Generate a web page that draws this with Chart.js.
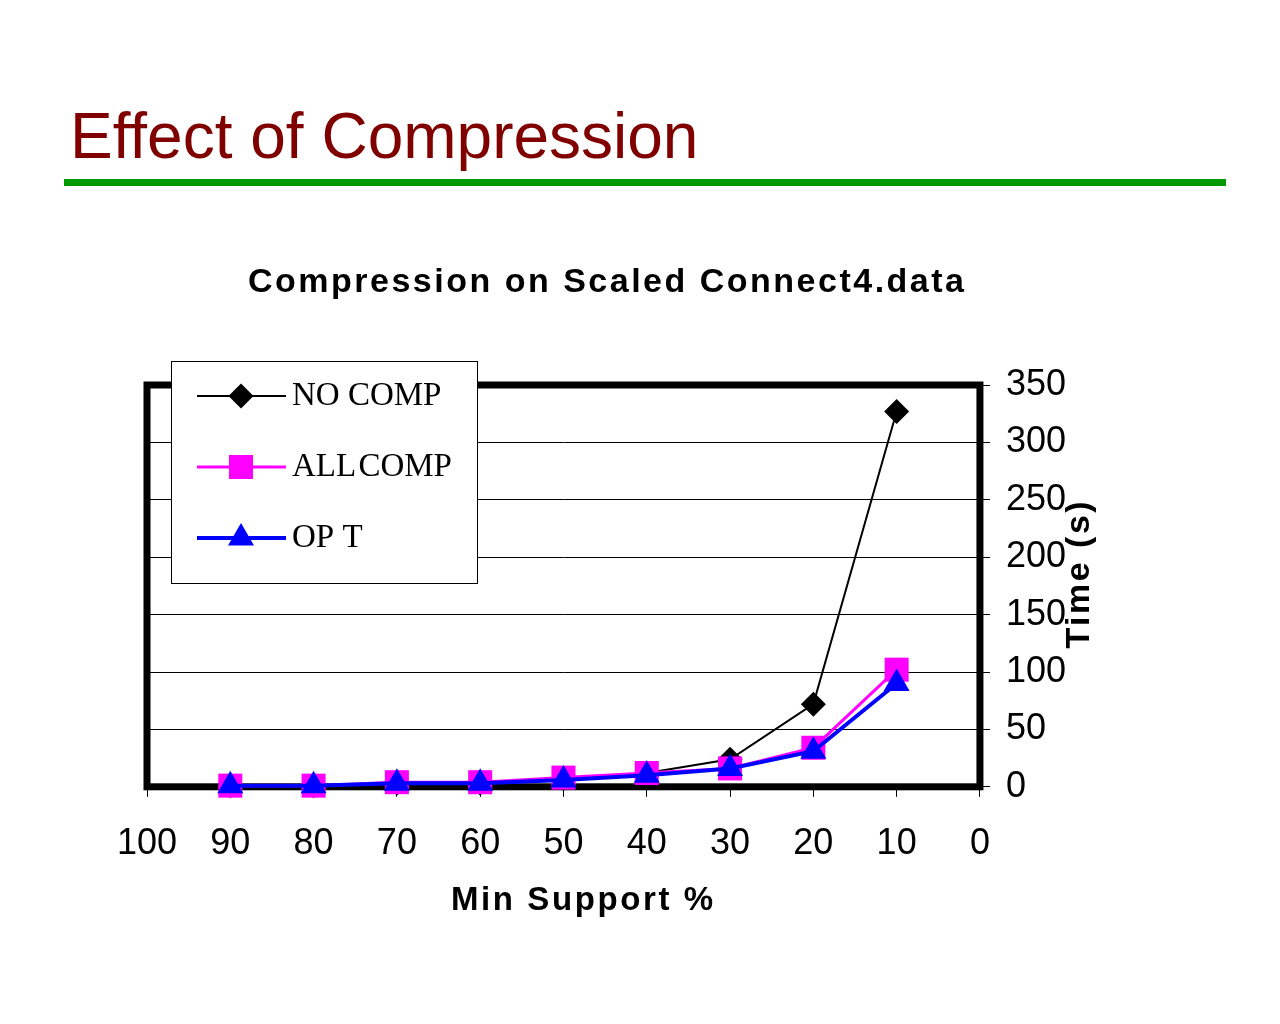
<!DOCTYPE html>
<html>
<head>
<meta charset="utf-8">
<script src="https://cdn.jsdelivr.net/npm/chart.js@4.4.1/dist/chart.umd.min.js"></script>
<style>
  body { margin: 0; background: #fff; }
</style>
</head>
<body>
<canvas id="c" width="1280" height="1024"></canvas>
<script>
const support = [90, 80, 70, 60, 50, 40, 30, 20, 10];
const noComp  = [1, 1, 3, 3, 7, 12, 24, 72, 327];
const allComp = [1, 1, 4, 4, 8, 12, 16, 34, 102];
const opt     = [1, 1, 3, 3, 6, 10, 16, 31, 90];
const xTicks = [100, 90, 80, 70, 60, 50, 40, 30, 20, 10, 0];
const yTicks = [0, 50, 100, 150, 200, 250, 300, 350];

const series = [
  { label: "NO COMP", values: noComp, color: "#000000", style: "rectRot", radius: 12.5, width: 2, order: 3 },
  { label: "ALL COMP", values: allComp, color: "#ff00ff", style: "rect", radius: 17, width: 3, order: 2 },
  { label: "OP T", values: opt, color: "#0000ff", style: "triangle", radius: 15, width: 4, order: 1 }
];

const sans = "'Liberation Sans', Arial, sans-serif";
const serif = "'Liberation Serif', 'Times New Roman', serif";

function marker(ctx, style, x, y, r) {
  ctx.beginPath();
  if (style === "rectRot") {
    ctx.moveTo(x, y - r); ctx.lineTo(x + r, y); ctx.lineTo(x, y + r); ctx.lineTo(x - r, y);
  } else if (style === "rect") {
    const s = r * Math.SQRT1_2;
    ctx.rect(x - s, y - s, 2 * s, 2 * s);
  } else {
    ctx.moveTo(x, y - r);
    ctx.lineTo(x + r * Math.sin(2 * Math.PI / 3), y - r * Math.cos(2 * Math.PI / 3));
    ctx.lineTo(x + r * Math.sin(4 * Math.PI / 3), y - r * Math.cos(4 * Math.PI / 3));
  }
  ctx.closePath();
  ctx.fill();
}

function spacedText(ctx, text, x, y, spacing) {
  ctx.letterSpacing = spacing + "px";
  const w = ctx.measureText(text).width - spacing;
  ctx.textAlign = "left";
  ctx.fillText(text, x - w / 2, y);
  ctx.letterSpacing = "0px";
}

const frame = {
  id: "frame",
  beforeDatasetsDraw(chart) {
    const { ctx, chartArea: a } = chart;
    ctx.save();
    ctx.strokeStyle = "#000";
    ctx.lineWidth = 7;
    ctx.strokeRect(a.left, a.top, a.right - a.left, a.bottom - a.top);
    ctx.restore();
  },
  afterDraw(chart) {
    const ctx = chart.ctx;
    ctx.save();
    // slide heading and rule
    ctx.fillStyle = "#800000";
    ctx.font = "64px " + sans;
    ctx.textBaseline = "alphabetic";
    ctx.fillText("Effect of Compression", 70, 158);
    ctx.fillStyle = "#009900";
    ctx.fillRect(64, 179, 1162, 7);

    // chart title and x title
    ctx.fillStyle = "#000";
    ctx.textBaseline = "middle";
    ctx.font = "bold 34px " + sans;
    spacedText(ctx, "Compression on Scaled Connect4.data", 606, 283, 2.5);
    ctx.font = "bold 33px " + sans;
    spacedText(ctx, "Min Support %", 582, 901, 2.6);

    // legend box
    ctx.fillStyle = "#fff";
    ctx.fillRect(171, 361, 306, 222);
    ctx.strokeStyle = "#000";
    ctx.lineWidth = 1;
    ctx.strokeRect(171.5, 361.5, 306, 222);
    series.forEach((s, i) => {
      const y = 396 + i * 71;
      ctx.strokeStyle = s.color;
      ctx.lineWidth = s.width;
      ctx.beginPath(); ctx.moveTo(197, y); ctx.lineTo(286, y); ctx.stroke();
      ctx.fillStyle = s.color;
      marker(ctx, s.style, 241, y, s.radius);
      ctx.fillStyle = "#000";
      ctx.font = "33px " + serif;
      ctx.textAlign = "left";
      ctx.textBaseline = "middle";
      ctx.wordSpacing = i === 1 ? "-6px" : "0px";
      ctx.fillText(s.label, 292, y);
      ctx.wordSpacing = "0px";
    });

    // y axis title
    ctx.translate(1080, 575);
    ctx.rotate(-Math.PI / 2);
    ctx.font = "bold 34px " + sans;
    ctx.textBaseline = "middle";
    ctx.fillStyle = "#000";
    spacedText(ctx, "Time (s)", 0, 0, 2.5);
    ctx.restore();
  }
};

new Chart(document.getElementById("c"), {
  type: "line",
  data: {
    datasets: series.map(s => ({
      label: s.label,
      data: support.map((x, i) => ({ x: x, y: s.values[i] })),
      borderColor: s.color,
      backgroundColor: s.color,
      borderWidth: s.width,
      pointStyle: s.style,
      pointRadius: s.radius,
      pointBorderWidth: 0,
      pointBackgroundColor: s.color,
      tension: 0,
      order: s.order,
      clip: false
    }))
  },
  options: {
    responsive: false,
    animation: false,
    layout: { padding: { top: 385, left: 147, right: 198, bottom: 132 } },
    plugins: {
      legend: { display: false },
      tooltip: { enabled: false },
      title: { display: false }
    },
    scales: {
      x: {
        type: "linear",
        reverse: true,
        min: 0, max: 100,
        afterBuildTicks: axis => { axis.ticks = xTicks.map(v => ({ value: v })); },
        ticks: { color: "#000", font: { family: sans, size: 36 }, padding: 26, maxRotation: 0 },
        grid: { drawOnChartArea: false, drawTicks: true, tickLength: 10, color: "#000", lineWidth: 1 },
        border: { display: false }
      },
      y: {
        position: "right",
        min: 0, max: 350,
        afterBuildTicks: axis => { axis.ticks = yTicks.map(v => ({ value: v })); },
        ticks: { color: "#000", font: { family: sans, size: 36 }, padding: 16 },
        grid: { color: "#000", lineWidth: 1, tickLength: 10 },
        border: { display: false }
      }
    }
  },
  plugins: [frame]
});
</script>
</body>
</html>
